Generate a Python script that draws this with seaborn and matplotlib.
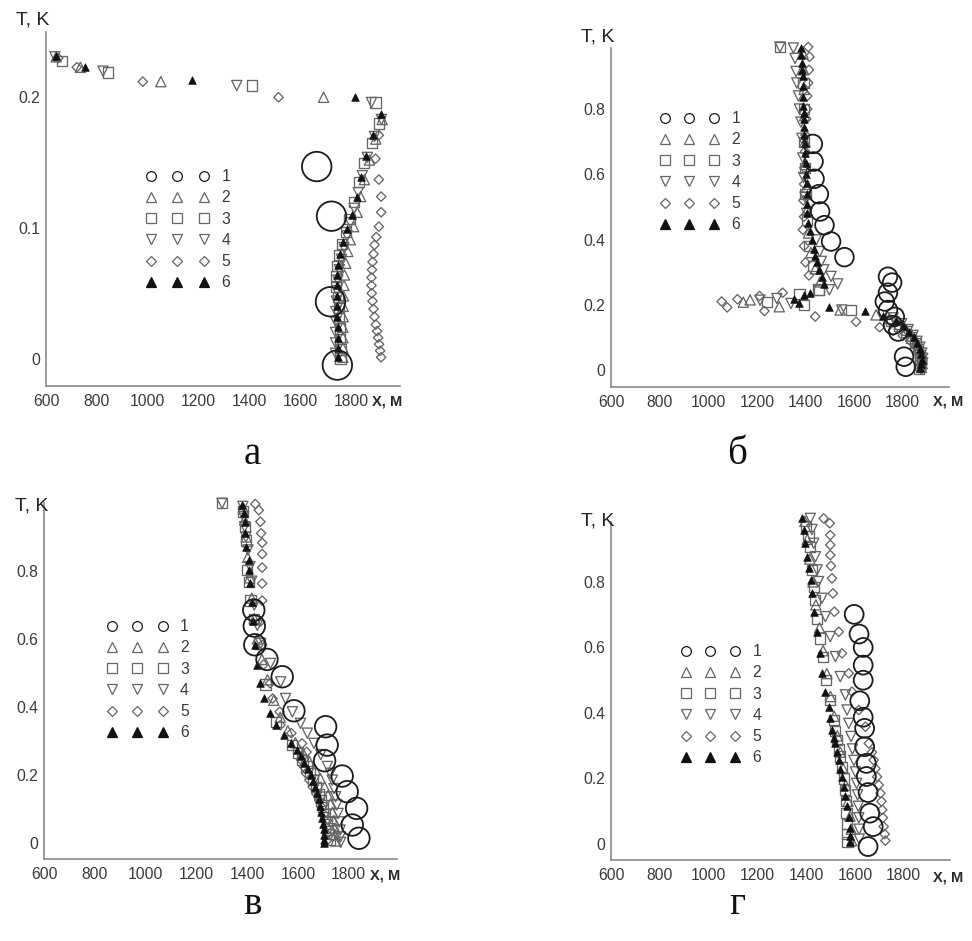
import matplotlib
matplotlib.use("Agg")
import matplotlib.pyplot as plt
from matplotlib.lines import Line2D
import pandas as pd
import seaborn as sns

# ---------------------------------------------------------------- data
# Panel "а": T (K) versus X (m) for six model variants
a_x1 = [1663, 1721, 1717, 1744]
a_t1 = [0.147, 0.109, 0.0435, -0.005]
a_x2 = [640, 735, 1051, 1690, 1920, 1895, 1870, 1850, 1835, 1822, 1808, 1795, 1785, 1777,
        1772, 1770, 1768, 1767, 1767, 1766, 1766, 1766, 1766]
a_t2 = [0.231, 0.223, 0.212, 0.200, 0.183, 0.168, 0.152, 0.137, 0.124, 0.112, 0.101, 0.091,
        0.082, 0.073, 0.064, 0.056, 0.048, 0.040, 0.032, 0.024, 0.016, 0.008, 0.001]
a_x3 = [662, 843, 1408, 1894, 1909, 1880, 1850, 1830, 1810, 1792, 1777, 1762, 1750, 1742,
        1738, 1740, 1745, 1750, 1752, 1754, 1755, 1756, 1756]
a_t3 = [0.228, 0.219, 0.209, 0.196, 0.180, 0.165, 0.150, 0.135, 0.120, 0.107, 0.097, 0.088,
        0.079, 0.071, 0.063, 0.055, 0.047, 0.039, 0.031, 0.023, 0.015, 0.007, 0.000]
a_x4 = [635, 824, 1349, 1878, 1917, 1890, 1862, 1842, 1826, 1810, 1795, 1782, 1770, 1760,
        1752, 1746, 1742, 1740, 1738, 1738, 1737, 1737, 1737]
a_t4 = [0.231, 0.220, 0.209, 0.196, 0.183, 0.170, 0.154, 0.140, 0.127, 0.115, 0.104, 0.094,
        0.085, 0.076, 0.068, 0.060, 0.052, 0.044, 0.036, 0.028, 0.020, 0.012, 0.004]
a_x5 = [648, 721, 980, 1513, 1907, 1894, 1907, 1916, 1916, 1907, 1897, 1890, 1886, 1882,
        1880, 1878, 1878, 1879, 1882, 1886, 1890, 1895, 1900, 1904, 1908, 1912, 1916]
a_t5 = [0.230, 0.223, 0.212, 0.200, 0.171, 0.153, 0.137, 0.124, 0.112, 0.101, 0.093, 0.087,
        0.080, 0.074, 0.068, 0.062, 0.056, 0.050, 0.044, 0.038, 0.032, 0.026, 0.021, 0.016,
        0.011, 0.006, 0.001]
a_x6 = [640, 753, 1173, 1812, 1917, 1885, 1858, 1838, 1820, 1800, 1783, 1768, 1756, 1748,
        1744, 1742, 1742, 1743, 1744, 1745, 1745, 1746, 1746]
a_t6 = [0.232, 0.223, 0.213, 0.200, 0.187, 0.171, 0.155, 0.139, 0.124, 0.110, 0.099, 0.089,
        0.080, 0.072, 0.064, 0.056, 0.048, 0.040, 0.032, 0.024, 0.016, 0.008, 0.001]

# Panel "б"
b_x1 = [1430, 1433, 1437, 1455, 1460, 1478, 1505, 1560, 1739, 1756, 1739, 1726, 1739, 1767,
        1760, 1781, 1805, 1812]
b_t1 = [0.693, 0.639, 0.586, 0.539, 0.486, 0.444, 0.394, 0.346, 0.286, 0.268, 0.237, 0.210,
        0.184, 0.163, 0.138, 0.118, 0.041, 0.010]
b_x2 = [1390, 1392, 1394, 1396, 1398, 1400, 1403, 1406, 1412, 1422, 1440, 1460,
        1144, 1172, 1292, 1542, 1690,
        1745, 1785, 1815, 1838, 1856, 1868, 1876, 1880, 1880, 1877]
b_t2 = [0.970, 0.920, 0.860, 0.780, 0.700, 0.630, 0.560, 0.490, 0.420, 0.360, 0.310, 0.270,
        0.208, 0.215, 0.194, 0.184, 0.169,
        0.158, 0.140, 0.122, 0.104, 0.086, 0.068, 0.050, 0.034, 0.020, 0.008]
b_x3 = [1295, 1392, 1393, 1395, 1398, 1400, 1405, 1415, 1430, 1457,
        1240, 1375, 1394, 1453, 1587,
        1750, 1785, 1812, 1835, 1852, 1864, 1870, 1872, 1870, 1866]
b_t3 = [0.990, 0.880, 0.800, 0.700, 0.620, 0.540, 0.460, 0.380, 0.320, 0.245,
        0.209, 0.233, 0.199, 0.247, 0.184,
        0.150, 0.135, 0.118, 0.100, 0.082, 0.064, 0.046, 0.030, 0.016, 0.004]
b_x4 = [1295, 1350, 1357, 1361, 1364, 1371, 1375, 1381, 1385, 1389, 1392, 1398, 1405,
        1444, 1458, 1465, 1475, 1505, 1532, 1498,
        1213, 1282, 1340, 1549,
        1760, 1795, 1822, 1842, 1858, 1870, 1878, 1882, 1882, 1879, 1875]
b_t4 = [0.990, 0.987, 0.955, 0.915, 0.880, 0.840, 0.800, 0.760, 0.710, 0.650, 0.590, 0.530,
        0.480, 0.399, 0.363, 0.333, 0.307, 0.287, 0.264, 0.246,
        0.214, 0.219, 0.204, 0.184,
        0.160, 0.142, 0.124, 0.106, 0.088, 0.070, 0.052, 0.036, 0.022, 0.010, 0.002]
b_x5 = [1411, 1416, 1414, 1411, 1407, 1407, 1403, 1400, 1398, 1395, 1394, 1391, 1394, 1389,
        1394, 1400, 1414,
        1055, 1078, 1120, 1211, 1231, 1306, 1440, 1608, 1705,
        1760, 1800, 1830, 1850, 1865, 1875, 1880, 1880, 1878]
b_t5 = [0.990, 0.960, 0.920, 0.880, 0.840, 0.800, 0.770, 0.720, 0.670, 0.620, 0.570, 0.520,
        0.470, 0.430, 0.380, 0.330, 0.290,
        0.210, 0.192, 0.217, 0.227, 0.181, 0.237, 0.164, 0.148, 0.131,
        0.120, 0.105, 0.090, 0.075, 0.060, 0.045, 0.030, 0.016, 0.004]
b_x6 = [1381, 1383, 1385, 1386, 1388, 1389, 1389, 1391, 1392, 1392, 1393, 1395, 1396, 1398,
        1400, 1402, 1404, 1405, 1406, 1408, 1412, 1419, 1425, 1433, 1440, 1446, 1455, 1467, 1474,
        1351, 1375, 1392, 1419, 1495, 1646,
        1720, 1770, 1800, 1825, 1845, 1860, 1870, 1876, 1878, 1876, 1872]
b_t6 = [0.987, 0.965, 0.940, 0.920, 0.900, 0.870, 0.838, 0.810, 0.787, 0.770, 0.746, 0.720,
        0.695, 0.665, 0.634, 0.600, 0.572, 0.540, 0.510, 0.480, 0.450, 0.425, 0.399, 0.370,
        0.348, 0.330, 0.307, 0.285, 0.265,
        0.217, 0.206, 0.230, 0.235, 0.192, 0.182,
        0.165, 0.150, 0.135, 0.118, 0.100, 0.082, 0.065, 0.048, 0.032, 0.018, 0.006]

# Panel "в"
c_x1 = [1426, 1428, 1430, 1478, 1538, 1584, 1709, 1715, 1705, 1774, 1794, 1831, 1814, 1840]
c_t1 = [0.685, 0.638, 0.583, 0.540, 0.489, 0.389, 0.342, 0.288, 0.242, 0.197, 0.151, 0.102,
        0.053, 0.014]
c_x2 = [1385, 1390, 1396, 1402, 1410, 1418, 1428, 1440, 1458, 1480, 1505, 1530, 1560, 1590,
        1620, 1645, 1668, 1688, 1705, 1718, 1728, 1736, 1742, 1746, 1748, 1749]
c_t2 = [0.985, 0.950, 0.900, 0.840, 0.780, 0.720, 0.660, 0.600, 0.540, 0.480, 0.420, 0.370,
        0.330, 0.295, 0.265, 0.240, 0.215, 0.190, 0.165, 0.140, 0.115, 0.090, 0.066, 0.044,
        0.024, 0.006]
c_x3 = [1301, 1383, 1390, 1395, 1400, 1406, 1413, 1426, 1446, 1472, 1515, 1577, 1600, 1618,
        1634, 1648, 1660, 1672, 1682, 1692, 1700, 1708, 1714, 1719, 1722, 1724]
c_t3 = [0.999, 0.975, 0.930, 0.890, 0.803, 0.768, 0.713, 0.658, 0.587, 0.466, 0.357, 0.289,
        0.265, 0.245, 0.225, 0.205, 0.185, 0.165, 0.145, 0.125, 0.105, 0.085, 0.065, 0.045,
        0.027, 0.010]
c_x4 = [1301, 1383, 1386, 1390, 1395, 1403, 1411, 1418, 1428, 1440, 1453, 1492, 1532, 1551,
        1578, 1610, 1637, 1663, 1690, 1716, 1728, 1735, 1742, 1748, 1753, 1758, 1762, 1766,
        1767, 1768]
c_t4 = [0.999, 0.990, 0.960, 0.930, 0.900, 0.862, 0.813, 0.770, 0.700, 0.640, 0.587, 0.528,
        0.474, 0.425, 0.386, 0.352, 0.323, 0.293, 0.260, 0.225, 0.205, 0.185, 0.160, 0.136,
        0.112, 0.087, 0.062, 0.038, 0.018, 0.002]
c_x5 = [1432, 1446, 1452, 1455, 1459, 1459, 1459, 1459, 1459, 1452, 1459, 1465, 1490, 1500,
        1528, 1531, 1574, 1616, 1634, 1612, 1622, 1632, 1645, 1658, 1672, 1684, 1694, 1702,
        1708, 1712, 1714, 1715]
c_t5 = [0.997, 0.979, 0.945, 0.911, 0.883, 0.850, 0.810, 0.763, 0.713, 0.651, 0.583, 0.525,
        0.470, 0.425, 0.386, 0.347, 0.323, 0.293, 0.268, 0.245, 0.225, 0.205, 0.185, 0.165,
        0.145, 0.125, 0.105, 0.085, 0.065, 0.045, 0.025, 0.008]
c_x6 = [1380, 1386, 1393, 1393, 1397, 1406, 1406, 1410, 1419, 1423, 1432, 1439, 1450, 1465,
        1489, 1515, 1547, 1573, 1597, 1612, 1625, 1638, 1650, 1660, 1668, 1676, 1682, 1688,
        1692, 1696, 1699, 1701, 1702, 1703, 1703]
c_t6 = [0.994, 0.970, 0.945, 0.911, 0.872, 0.832, 0.803, 0.764, 0.710, 0.653, 0.583, 0.524,
        0.470, 0.426, 0.382, 0.347, 0.318, 0.293, 0.274, 0.255, 0.236, 0.218, 0.200, 0.182,
        0.164, 0.146, 0.128, 0.110, 0.092, 0.074, 0.056, 0.040, 0.024, 0.010, 0.000]

# Panel "г"
d_x1 = [1597, 1617, 1634, 1634, 1634, 1620, 1634, 1640, 1640, 1647, 1647, 1654, 1661, 1675, 1654]
d_t1 = [0.701, 0.641, 0.600, 0.546, 0.500, 0.437, 0.387, 0.353, 0.297, 0.246, 0.206, 0.157,
        0.094, 0.053, -0.008]
d_x2 = [1395, 1405, 1415, 1428, 1440, 1455, 1470, 1485, 1500, 1515, 1528, 1540, 1552, 1562,
        1572, 1580, 1585, 1587]
d_t2 = [0.985, 0.930, 0.870, 0.800, 0.730, 0.660, 0.590, 0.520, 0.450, 0.390, 0.330, 0.280,
        0.230, 0.180, 0.130, 0.085, 0.045, 0.010]
d_x3 = [1400, 1410, 1417, 1424, 1431, 1438, 1445, 1458, 1469, 1483, 1499, 1513, 1520, 1527,
        1534, 1540, 1548, 1555, 1560, 1564, 1566, 1568, 1569, 1570]
d_t3 = [0.970, 0.940, 0.907, 0.836, 0.785, 0.744, 0.688, 0.627, 0.571, 0.500, 0.439, 0.378,
        0.345, 0.317, 0.290, 0.267, 0.235, 0.200, 0.165, 0.130, 0.095, 0.060, 0.030, 0.005]
d_x4 = [1417, 1424, 1431, 1438, 1445, 1451, 1465, 1479, 1499, 1520, 1540, 1561, 1568, 1575,
        1584, 1590, 1596, 1602, 1607, 1611, 1614, 1616, 1617, 1618]
d_t4 = [0.994, 0.960, 0.918, 0.877, 0.837, 0.801, 0.750, 0.694, 0.633, 0.572, 0.511, 0.455,
        0.409, 0.368, 0.328, 0.290, 0.255, 0.220, 0.185, 0.150, 0.115, 0.080, 0.045, 0.015]
d_x5 = [1472, 1497, 1499, 1499, 1499, 1502, 1506, 1510, 1516, 1534, 1547, 1575, 1588, 1616,
        1643, 1657, 1670, 1677, 1684, 1691, 1698, 1705, 1709, 1712, 1715, 1718, 1722, 1725]
d_t5 = [0.994, 0.979, 0.943, 0.913, 0.882, 0.849, 0.811, 0.765, 0.709, 0.648, 0.582, 0.521,
        0.465, 0.409, 0.358, 0.307, 0.280, 0.256, 0.230, 0.205, 0.180, 0.155, 0.130, 0.104,
        0.080, 0.053, 0.030, 0.010]
d_x6 = [1383, 1390, 1397, 1404, 1410, 1420, 1424, 1431, 1445, 1458, 1465, 1479, 1493, 1499,
        1506, 1513, 1520, 1527, 1534, 1540, 1547, 1554, 1561, 1568, 1575, 1579, 1581, 1582]
d_t6 = [0.994, 0.959, 0.918, 0.877, 0.842, 0.806, 0.765, 0.709, 0.648, 0.582, 0.521, 0.465,
        0.419, 0.384, 0.348, 0.325, 0.307, 0.280, 0.256, 0.230, 0.205, 0.175, 0.145, 0.115,
        0.083, 0.050, 0.025, 0.005]

series_names = ["1", "2", "3", "4", "5", "6"]
x_ticks = [600, 800, 1000, 1200, 1400, 1600, 1800]
x_tick_labels = ["600", "800", "1000", "1200", "1400", "1600", "1800"]
y_ticks_a = [0, 0.1, 0.2]
y_tick_labels_a = ["0", "0.1", "0.2"]
y_ticks = [0, 0.2, 0.4, 0.6, 0.8]
y_tick_labels = ["0", "0.2", "0.4", "0.6", "0.8"]
panel_letters = ["а", "б", "в", "г"]

# ---------------------------------------------------------------- style
sns.set_theme(style="white")
plt.rcParams["font.family"] = ["Liberation Sans", "DejaVu Sans"]

W, H = 972, 941
fig = plt.figure(figsize=(W / 100, H / 100), dpi=100)


def fx(px):
    return px / W


def fy(py):
    return 1 - py / H


GREY = "#666666"
DARK = "#1c1c1c"
marker_style = {
    "1": dict(marker="o", facecolor="none", edgecolor=DARK, linewidth=1.3),
    "2": dict(marker="^", facecolor="none", edgecolor=GREY, linewidth=0.95, s=54),
    "3": dict(marker="s", facecolor="none", edgecolor=GREY, linewidth=0.95, s=54),
    "4": dict(marker="v", facecolor="none", edgecolor=GREY, linewidth=0.95, s=54),
    "5": dict(marker="D", facecolor="none", edgecolor=GREY, linewidth=0.95, s=23),
    "6": dict(marker="^", facecolor="#111111", edgecolor="#111111", linewidth=0.5, s=30),
}
draw_order = ["5", "3", "4", "2", "6", "1"]

panels = [
    dict(xs=[a_x1, a_x2, a_x3, a_x4, a_x5, a_x6], ts=[a_t1, a_t2, a_t3, a_t4, a_t5, a_t6],
         box=(46, 32, 400, 386), ylim=(-0.021, 0.25), yt=(y_ticks_a, y_tick_labels_a),
         circ=450, tk=(49, 20), xm=(372, 401), leg=(146, 169, 4.0), letter=(252, 455)),
    dict(xs=[b_x1, b_x2, b_x3, b_x4, b_x5, b_x6], ts=[b_t1, b_t2, b_t3, b_t4, b_t5, b_t6],
         box=(611, 48, 949, 387), ylim=(-0.052, 0.987), yt=(y_ticks, y_tick_labels),
         circ=180, tk=(614, 37), xm=(933, 401), leg=(660, 111, 3.75), letter=(737, 455)),
    dict(xs=[c_x1, c_x2, c_x3, c_x4, c_x5, c_x6], ts=[c_t1, c_t2, c_t3, c_t4, c_t5, c_t6],
         box=(44, 503, 397, 859), ylim=(-0.047, 1.0), yt=(y_ticks, y_tick_labels),
         circ=240, tk=(48, 506), xm=(370, 875), leg=(107, 619, 3.85), letter=(252, 905)),
    dict(xs=[d_x1, d_x2, d_x3, d_x4, d_x5, d_x6], ts=[d_t1, d_t2, d_t3, d_t4, d_t5, d_t6],
         box=(611, 522, 950, 860), ylim=(-0.049, 0.983), yt=(y_ticks, y_tick_labels),
         circ=185, tk=(614, 521), xm=(933, 877), leg=(681, 644, 3.75), letter=(737, 905)),
]

FS = 11.3
for i, p in enumerate(panels):
    l, t, r, b = p["box"]
    ax = fig.add_axes([fx(l), fy(b), fx(r) - fx(l), fy(t) - fy(b)])

    frames = []
    for name, xv, tv in zip(series_names, p["xs"], p["ts"]):
        frames.append(pd.DataFrame({"X": xv, "T": tv, "series": name}))
    df = pd.concat(frames, ignore_index=True)

    for name in draw_order:
        kw = dict(marker_style[name])
        if name == "1":
            kw["s"] = p["circ"]
        sns.scatterplot(data=df[df["series"] == name], x="X", y="T", ax=ax,
                        legend=False, zorder=3, clip_on=False, **kw)

    ax.set_xlim(600, 1990)
    ax.set_ylim(*p["ylim"])
    ax.set_xticks(x_ticks)
    ax.set_xticklabels(x_tick_labels)
    ax.set_yticks(p["yt"][0])
    ax.set_yticklabels(p["yt"][1])
    ax.set_xlabel("")
    ax.set_ylabel("")
    for side in ("top", "right"):
        ax.spines[side].set_visible(False)
    for side in ("left", "bottom"):
        ax.spines[side].set_color("#8a8a8a")
        ax.spines[side].set_linewidth(1.2)
    ax.tick_params(axis="both", direction="in", length=4, width=1, color="#8a8a8a",
                   labelsize=FS, labelcolor="#3a3a3a")
    ax.tick_params(axis="x", pad=6)
    ax.tick_params(axis="y", pad=4)
    ax.patch.set_alpha(0)

    # legend: three marker samples per row
    handles = []
    for name in series_names:
        st = marker_style[name]
        ms = {"1": 7, "2": 7, "3": 7.2, "4": 7, "5": 4.6, "6": 6.5}[name]
        handles.append(Line2D([], [], linestyle="none", marker=st["marker"], markersize=ms,
                              markerfacecolor=st["facecolor"], markeredgecolor=st["edgecolor"],
                              markeredgewidth=0.9))
    lx, ly, hl = p["leg"]
    fig.legend(handles=handles, labels=series_names, loc="upper left",
               bbox_to_anchor=(fx(lx), fy(ly)), bbox_transform=fig.transFigure,
               numpoints=3, handlelength=hl, handletextpad=0.8, labelspacing=0.4,
               borderpad=0, borderaxespad=0, frameon=False,
               prop=dict(family="Liberation Sans", size=FS), labelcolor="#3a3a3a")

    fig.text(fx(p["tk"][0]), fy(p["tk"][1]), "T, K", ha="right", va="center",
             fontsize=14, color="#222222")
    fig.text(fx(p["xm"][0]), fy(p["xm"][1]), "X, M", ha="left", va="center",
             fontsize=10.5, fontweight="bold", color="#2a2a2a")
    fig.text(fx(p["letter"][0]), fy(p["letter"][1]), panel_letters[i], ha="center",
             va="center", fontsize=28, family="Liberation Serif", color="#111111")

fig.savefig("out.png", dpi=100, facecolor="white")
